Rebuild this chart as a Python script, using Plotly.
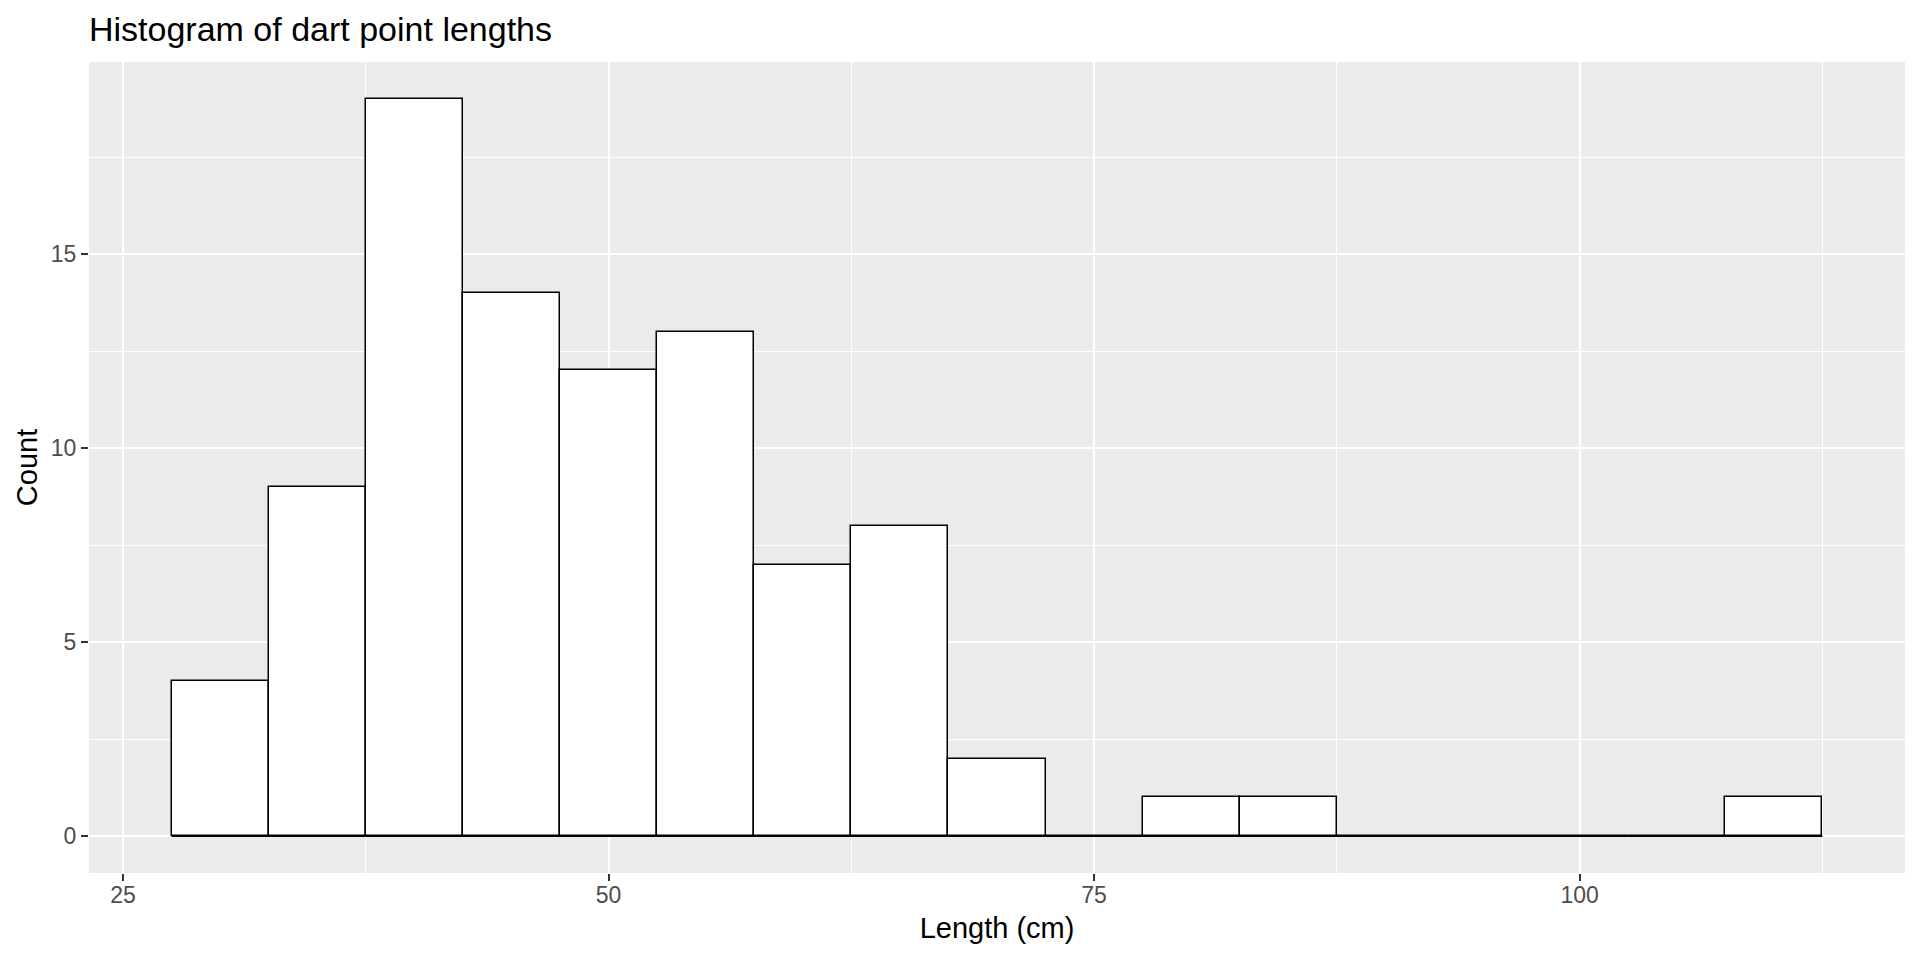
# Histograma de longitudes de puntas de dardo, estilo ggplot2 (theme_grey).

import plotly.graph_objects as go

# Centros de clase (ancho 5 cm) y conteos
centros = [30, 35, 40, 45, 50, 55, 60, 65, 70, 75, 80, 85, 90, 95, 100, 105, 110]
conteos = [4, 9, 19, 14, 12, 13, 7, 8, 2, 0, 1, 1, 0, 0, 0, 0, 1]
ancho_clase = 5

ticks_x = [25, 50, 75, 100]
ticks_y = [0, 5, 10, 15]

FUENTE = 'Liberation Sans, Arial, sans-serif'
FONDO_PANEL = '#EBEBEB'

# Rango como en ggplot: datos + 5% de expansión
x_min = centros[0] - ancho_clase / 2
x_max = centros[-1] + ancho_clase / 2
pad_x = (x_max - x_min) * 0.05
y_max = max(conteos)
pad_y = y_max * 0.05

fig = go.Figure()

# Línea base: ggplot dibuja el borde de las clases vacías sobre y=0
fig.add_trace(go.Scatter(
    x=[x_min, x_max],
    y=[0, 0],
    mode='lines',
    line=dict(color='black', width=1.5),
    hoverinfo='skip',
    showlegend=False,
))

fig.add_trace(go.Bar(
    x=centros,
    y=conteos,
    width=ancho_clase,
    marker=dict(color='white', line=dict(color='black', width=1.5)),
    showlegend=False,
    hovertemplate='%{x}: %{y}<extra></extra>',
))

# La página tiene 8px de margen en body: el lienzo se achica para que quepa
fig.update_layout(
    width=1904,
    height=944,
    margin=dict(l=81, r=7, t=54, b=79),
    paper_bgcolor='white',
    plot_bgcolor=FONDO_PANEL,
    font=dict(family=FUENTE, color='black'),
    bargap=0,
    title=dict(
        text='Histogram of dart point lengths',
        font=dict(size=34, color='black', family=FUENTE),
        x=0, xref='paper', xanchor='left',
        y=1 - 21 / 944, yref='container', yanchor='middle',
    ),
)

fig.update_xaxes(
    automargin=False,
    range=[x_min - pad_x, x_max + pad_x],
    tickvals=ticks_x,
    ticks='outside', ticklen=7, tickwidth=1.5, tickcolor='#333333',
    tickfont=dict(size=23, color='#4D4D4D'),
    ticklabelstandoff=-6,
    showgrid=True, gridcolor='white', gridwidth=2,
    minor=dict(dtick=12.5, tick0=25, showgrid=True, gridcolor='white', gridwidth=1, ticks=''),
    zeroline=False, showline=False,
    title=dict(text='Length (cm)', font=dict(size=29, color='black'), standoff=11),
)

fig.update_yaxes(
    automargin=False,
    range=[-pad_y, y_max + pad_y],
    tickvals=ticks_y,
    ticks='outside', ticklen=7, tickwidth=1.5, tickcolor='#333333',
    tickfont=dict(size=23, color='#4D4D4D'),
    showgrid=True, gridcolor='white', gridwidth=2,
    minor=dict(dtick=2.5, tick0=0, showgrid=True, gridcolor='white', gridwidth=1, ticks=''),
    zeroline=False, showline=False,
    title=dict(text='Count', font=dict(size=29, color='black'), standoff=4),
)

fig.write_html('out.html')
